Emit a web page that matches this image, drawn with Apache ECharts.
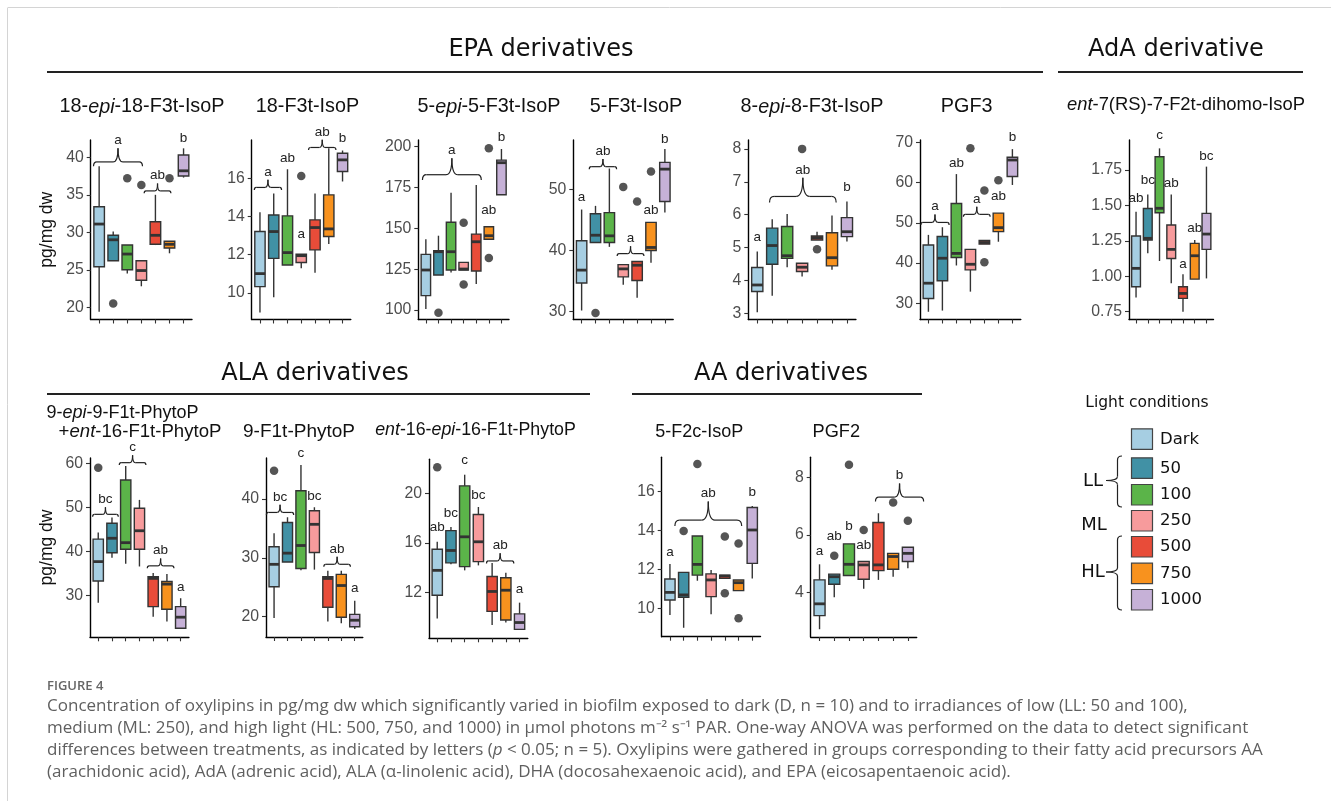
<!DOCTYPE html>
<html><head><meta charset="utf-8">
<script src="https://cdn.jsdelivr.net/npm/echarts@6/dist/echarts.min.js"></script>
<style>html,body{margin:0;padding:0;background:#fff}#c{width:1331px;height:801px}</style>
</head><body><div id="c"></div><script>
// ---------------- DATA ----------------
const categories = ['Dark','50','100','250','500','750','1000'];
// box stats per category: [min, q1, median, q3, max]
// 18-epi-18-F3t-IsoP
const epa1Box = [[19.4,25.4,31.1,33.4,38.8],[26.2,26.2,29.0,29.6,30.1],[24.5,25.0,27.1,28.3,28.3],[22.8,23.6,24.9,26.2,26.2],[28.3,28.4,29.6,31.4,35.0],[27.2,27.9,28.4,28.8,28.8],[37.3,37.5,38.2,40.3,41.2]];
const epa1Out = [[1,20.5],[2,37.2],[3,36.3],[5,37.2]];
const epa1Ticks = [20,25,30,35,40];
const epa1Letters = [[-0.4,3.08,38.8,'a'],[3.2,5.1,35.2,'ab'],[6,6,41.6,'b']];
// 18-F3t-IsoP
const epa2Box = [[8.97,10.33,11.01,13.21,14.22],[9.77,11.81,13.21,14.08,15.2],[11.46,11.46,12.11,14.03,16.47],[11.29,11.59,11.95,12.02,12.02],[11.06,12.25,13.42,13.82,15.2],[12.56,12.95,13.35,15.13,17.57],[15.83,16.35,16.96,17.31,17.45]];
const epa2Out = [[3,16.12]];
const epa2Ticks = [10,12,14,16];
const epa2Letters = [[-0.41,1.57,15.39,'a'],[2,2,16.7,'ab'],[3,3,12.69,'a'],[3.53,5.52,17.48,'ab'],[6,6,17.74,'b']];
// 5-epi-5-F3t-IsoP
const epa3Box = [[100.6,108.8,124.5,134.1,143.3],[121.4,121.4,135.7,136.3,145.5],[122.9,124.5,135.7,153.7,171.8],[124.5,124.5,125.1,129.2,129.2],[115.9,123.9,141.8,146.5,176.5],[143.3,143.3,145.5,151.0,151.0],[170.6,170.6,190.2,191.8,198.6]];
const epa3Out = [[1,98.4],[3,153.5],[3,115.7],[5,199.0],[5,131.8]];
const epa3Ticks = [100,125,150,175,200];
const epa3Letters = [[-0.27,4.4,179.6,'a'],[5,5,156.7,'ab'],[6,6,201.4,'b']];
// 5-F3t-IsoP
const epa4Box = [[30.2,34.7,36.8,41.6,46.7],[41.3,41.3,42.5,46.0,47.3],[40.6,41.3,42.4,46.2,53.4],[34.4,35.7,37.0,37.7,37.7],[32.3,35.1,37.6,38.2,38.2],[38.0,40.0,40.5,44.6,44.6],[46.2,48.0,53.3,54.4,56.6]];
const epa4Out = [[1,29.8],[3,50.4],[4,48.0],[5,52.9]];
const epa4Ticks = [30,40,50];
const epa4Letters = [[0,0,47.6,'a'],[0.55,2.52,53.3,'ab'],[2.56,4.49,39.1,'a'],[5,5,45.5,'ab'],[6,6,57.0,'b']];
// 8-epi-8-F3t-IsoP
const epa5Box = [[3.03,3.66,3.86,4.39,4.88],[3.53,4.49,5.06,5.59,5.86],[4.40,4.67,4.75,5.64,6.02],[4.12,4.27,4.40,4.52,4.52],[5.23,5.23,5.30,5.35,5.48],[4.32,4.44,4.69,5.45,5.97],[5.18,5.33,5.48,5.91,6.40]];
const epa5Out = [[3,8.0],[4,4.95]];
const epa5Ticks = [3,4,5,6,7,8];
const epa5Letters = [[0,0,5.11,'a'],[0.82,5.28,6.37,'ab'],[6,6,6.63,'b']];
// PGF3
const epa6Box = [[27.9,31.2,35.0,44.5,47.0],[28.2,35.6,41.2,46.6,48.9],[39.4,41.4,42.4,54.8,62.1],[32.9,38.3,39.7,43.4,43.4],[44.7,44.7,45.1,45.6,45.6],[45.3,47.8,48.8,52.4,52.4],[59.4,61.5,65.6,66.3,68.3]];
const epa6Out = [[3,68.5],[4,58.0],[4,40.2],[5,60.6]];
const epa6Ticks = [30,40,50,60,70];
const epa6Letters = [[-0.54,1.48,49.46,'a'],[2,2,63.1,'ab'],[2.5,4.41,51.5,'a'],[5,5,54.8,'ab'],[6,6,69.4,'b']];
// ent-7(RS)-7-F2t-dihomo-IsoP
const adaBox = [[0.851,0.926,1.056,1.284,1.456],[1.162,1.256,1.268,1.479,1.578],[1.108,1.449,1.48,1.844,1.903],[0.95,1.126,1.190,1.362,1.578],[0.75,0.844,0.879,0.926,1.014],[0.98,0.98,1.145,1.232,1.256],[0.985,1.19,1.298,1.444,1.774]];
const adaOut = [];
const adaTicks = [0.75,1.00,1.25,1.50,1.75];
const adaLetters = [[0,0,1.50,'ab'],[1,1,1.628,'bc'],[2,2,1.943,'c'],[3,3,1.609,'ab'],[4,4,1.032,'a'],[5,5,1.289,'ab'],[6,6,1.797,'bc']];
// 9-epi-9-F1t-PhytoP + ent-16-F1t-PhytoP
const ala1Box = [[28.4,33.3,37.7,42.8,44.3],[38.6,39.7,43.0,46.4,47.7],[37.2,40.5,42.0,56.2,59.4],[36.6,40.5,44.7,49.8,51.7],[25.2,27.5,33.9,34.3,35.1],[24.1,26.9,32.6,33.2,34.9],[22.6,22.6,25.1,27.5,29.4]];
const ala1Out = [[0,59.0]];
const ala1Ticks = [30,40,50,60];
const ala1Letters = [[-0.41,1.46,47.9,'bc'],[1.53,3.47,59.6,'c'],[3.57,5.51,36.2,'ab'],[6,6,30.3,'a']];
// 9-F1t-PhytoP
const ala2Box = [[19.8,25.1,28.9,31.9,34.2],[29.3,29.3,30.8,36.0,36.9],[27.9,28.2,32.1,41.4,45.8],[28.0,30.9,35.7,38.0,38.6],[19.2,21.6,26.5,26.8,27.8],[18.9,19.9,25.3,27.2,27.8],[17.9,18.3,19.4,20.4,22.7]];
const ala2Out = [[0,44.8]];
const ala2Ticks = [20,30,40];
const ala2Letters = [[-0.57,1.46,37.3,'bc'],[2,2,46.6,'c'],[3,3,39.3,'bc'],[3.70,5.68,28.5,'ab'],[6,6,23.7,'a']];
// ent-16-epi-16-F1t-PhytoP
const ala3Box = [[9.93,11.8,13.8,15.5,16.1],[14.3,14.4,15.4,17.0,17.3],[13.8,14.1,16.5,20.6,21.5],[14.2,14.5,16.1,18.3,18.9],[9.4,10.5,12.1,13.3,14.4],[9.6,9.8,12.2,13.2,13.6],[9.05,9.05,9.6,10.3,11.2]];
const ala3Out = [[0,22.1]];
const ala3Ticks = [12,16,20];
const ala3Letters = [[0,0,16.7,'ab'],[1,1,17.85,'bc'],[2,2,22.1,'c'],[3,3,19.25,'bc'],[3.59,5.58,14.36,'ab'],[6,6,11.7,'a']];
// 5-F2c-IsoP
const aa1Box = [[9.66,10.43,10.82,11.51,12.28],[9.0,10.57,10.69,11.85,11.85],[11.42,11.71,12.26,13.72,13.72],[9.69,10.6,11.46,11.77,11.97],[11.54,11.54,11.66,11.71,11.71],[10.91,10.91,11.32,11.46,11.46],[11.54,12.31,14.03,15.19,15.26]];
const aa1Out = [[1,13.98],[2,17.42],[4,13.69],[4,10.77],[5,13.34],[5,9.49]];
const aa1Ticks = [10,12,14,16];
const aa1Letters = [[0,0,12.52,'a'],[0.36,5.23,14.23,'ab'],[6,6,15.62,'b']];
// PGF2
const aa2Box = [[2.73,3.20,3.61,4.44,4.98],[3.84,4.29,4.55,4.64,4.64],[4.59,4.59,4.98,5.69,5.69],[4.13,4.46,4.96,5.08,5.08],[4.44,4.76,4.96,6.43,6.75],[4.55,4.81,5.25,5.36,5.36],[4.84,5.08,5.36,5.57,5.57]];
const aa2Out = [[1,5.28],[2,8.43],[3,6.17],[5,7.12],[6,6.49]];
const aa2Ticks = [4,6,8];
const aa2Letters = [[0,0,5.2,'a'],[1,1,5.71,'ab'],[2,2,6.06,'b'],[3,3,5.39,'ab'],[3.80,7.07,7.16,'b']];

// ---------------- STYLE / LAYOUT ----------------
const COLORS = ['#a6cee2','#4191a5','#5bb449','#f79b9c','#e84c39','#f8921e','#c6b1d7'];
const STROKE = '#333333';
const SANS = '"Liberation Sans", Arial, sans-serif';
const DEJA = '"DejaVu Sans", sans-serif';

const panels = [
  {box:epa1Box,out:epa1Out,ticks:epa1Ticks,letters:epa1Letters, left:90.7,top:140,width:101.3,height:179.5,min:18.37,max:42.31},
  {box:epa2Box,out:epa2Out,ticks:epa2Ticks,letters:epa2Letters, left:251.7,top:140,width:99.1,height:179.5,min:8.61,max:18.0},
  {box:epa3Box,out:epa3Out,ticks:epa3Ticks,letters:epa3Letters, left:418.3,top:140,width:90.7,height:179.5,min:94.2,max:204.1},
  {box:epa4Box,out:epa4Out,ticks:epa4Ticks,letters:epa4Letters, left:573.3,top:140,width:99.9,height:179.5,min:28.73,max:58.06},
  {box:epa5Box,out:epa5Out,ticks:epa5Ticks,letters:epa5Letters, left:748.3,top:140,width:107.6,height:179.5,min:2.81,max:8.27},
  {box:epa6Box,out:epa6Out,ticks:epa6Ticks,letters:epa6Letters, left:920,top:140,width:100.8,height:179.5,min:25.98,max:70.57},
  {box:adaBox,out:adaOut,ticks:adaTicks,letters:adaLetters, left:1129,top:140,width:84.5,height:179.5,min:0.695,max:1.962,dec:2},
  {box:ala1Box,out:ala1Out,ticks:ala1Ticks,letters:ala1Letters, left:90,top:458,width:98.9,height:179.3,min:20.54,max:61.2},
  {box:ala2Box,out:ala2Out,ticks:ala2Ticks,letters:ala2Letters, left:266,top:458,width:96.8,height:179,min:16.55,max:46.97},
  {box:ala3Box,out:ala3Out,ticks:ala3Ticks,letters:ala3Letters, left:429,top:459.3,width:98.8,height:179,min:8.33,max:22.74},
  {box:aa1Box,out:aa1Out,ticks:aa1Ticks,letters:aa1Letters, left:661.7,top:457.3,width:98.8,height:179.4,min:8.54,max:17.77},
  {box:aa2Box,out:aa2Out,ticks:aa2Ticks,letters:aa2Letters, left:810.7,top:457.3,width:106,height:179.7,min:2.46,max:8.69}
];

const titles = [
  {t:'18-{i|epi}-18-F3t-IsoP', x:142, y:107, fs:19.8},
  {t:'18-F3t-IsoP', x:307.5, y:107, fs:19.8},
  {t:'5-{i|epi}-5-F3t-IsoP', x:489, y:107, fs:19.8},
  {t:'5-F3t-IsoP', x:636, y:107, fs:19.8},
  {t:'8-{i|epi}-8-F3t-IsoP', x:812, y:107, fs:19.8},
  {t:'PGF3', x:966.7, y:107, fs:19.8},
  {t:'{i|ent}-7(RS)-7-F2t-dihomo-IsoP', x:1186, y:105, fs:18.4},
  {t:'9-{i|epi}-9-F1t-PhytoP', x:122.5, y:413.3, fs:18},
  {t:'+{i|ent}-16-F1t-PhytoP', x:140, y:431.7, fs:18.6},
  {t:'9-F1t-PhytoP', x:299, y:431.7, fs:19},
  {t:'{i|ent}-16-{i|epi}-16-F1t-PhytoP', x:475.5, y:430, fs:17.8},
  {t:'5-F2c-IsoP', x:699.3, y:431.7, fs:18},
  {t:'PGF2', x:836.3, y:431.7, fs:18.2}
];

const BOX_W = 0.75;

function renderBox(params, api) {
  const i = api.value(0);
  const cx = api.coord([i, api.value(3)])[0];
  const yMin = api.coord([i, api.value(1)])[1];
  const yQ1 = api.coord([i, api.value(2)])[1];
  const yMed = api.coord([i, api.value(3)])[1];
  const yQ3 = api.coord([i, api.value(4)])[1];
  const yMax = api.coord([i, api.value(5)])[1];
  const hw = api.size([BOX_W, 0])[0] / 2;
  return {type:'group', children:[
    {type:'line', shape:{x1:cx,y1:yMax,x2:cx,y2:yQ3}, style:{stroke:STROKE,lineWidth:1.4}},
    {type:'line', shape:{x1:cx,y1:yQ1,x2:cx,y2:yMin}, style:{stroke:STROKE,lineWidth:1.4}},
    {type:'rect', shape:{x:cx-hw,y:yQ3,width:2*hw,height:Math.max(yQ1-yQ3,0.6)}, style:{fill:COLORS[i],stroke:STROKE,lineWidth:1.4}},
    {type:'line', shape:{x1:cx-hw,y1:yMed,x2:cx+hw,y2:yMed}, style:{stroke:STROKE,lineWidth:2.8}}
  ]};
}

// horizontal curly brace (tip up) as line + quadratic curve pieces
function hBracePieces(xa, xb, y0, w) {
  const yb = y0 - 0.09 * w, yt = yb - 0.28 * w;
  const re = 0.07 * w, rt = 0.1 * w, xm = (xa + xb) / 2;
  const st = {stroke:'#222', fill:null, lineWidth:1.2};
  return {yt, xm, items:[
    {type:'bezierCurve', shape:{x1:xa,y1:y0,cpx1:xa,cpy1:yb,x2:xa+re,y2:yb}, style:st},
    {type:'line', shape:{x1:xa+re,y1:yb,x2:xm-rt,y2:yb}, style:st},
    {type:'bezierCurve', shape:{x1:xm-rt,y1:yb,cpx1:xm,cpy1:yb,x2:xm,y2:yt}, style:st},
    {type:'bezierCurve', shape:{x1:xm,y1:yt,cpx1:xm,cpy1:yb,x2:xm+rt,y2:yb}, style:st},
    {type:'line', shape:{x1:xm+rt,y1:yb,x2:xb-re,y2:yb}, style:st},
    {type:'bezierCurve', shape:{x1:xb-re,y1:yb,cpx1:xb,cpy1:yb,x2:xb,y2:y0}, style:st}
  ]};
}

function makeLetterRenderer(letters) {
  return function(params, api) {
    const x1 = api.value(0), x2 = api.value(1), y = api.value(2);
    const label = letters[params.dataIndex][3];
    const p1 = api.coord([x1, y]);
    const p2 = api.coord([x2, y]);
    let children = [];
    let tx = p1[0], ty = p1[1];
    if (x2 > x1) {
      const b = hBracePieces(p1[0], p2[0], p1[1], p2[0] - p1[0]);
      children = children.concat(b.items);
      tx = b.xm; ty = b.yt - 1;
    }
    children.push({type:'text', x:tx, y:ty, style:{text:label, align:'center', verticalAlign:'bottom', fontSize:13.5, fontFamily:SANS, fill:'#222'}});
    return {type:'group', children};
  };
}

const grid = [], xAxis = [], yAxis = [], series = [];
panels.forEach((p, k) => {
  grid.push({left:p.left, top:p.top, width:p.width, height:p.height, containLabel:false});
  xAxis.push({gridIndex:k, type:'value', min:-0.6, max:6.6,
    axisLine:{show:true, onZero:false, lineStyle:{color:'#000', width:1.4}},
    axisTick:{show:true, customValues:[0,1,2,3,4,5,6], length:4, lineStyle:{color:'#333', width:1.1}},
    axisLabel:{show:false}, splitLine:{show:false}});
  yAxis.push({gridIndex:k, type:'value', min:p.min, max:p.max,
    axisLine:{show:true, onZero:false, lineStyle:{color:'#000', width:1.4}},
    axisTick:{show:true, customValues:p.ticks, length:4, lineStyle:{color:'#333', width:1.1}},
    axisLabel:{show:true, customValues:p.ticks, margin:7, fontSize:15.8, fontFamily:SANS, color:'#4d4d4d',
      formatter: v => p.dec ? Number(v).toFixed(p.dec) : String(v)},
    splitLine:{show:false}});
  series.push({type:'custom', xAxisIndex:k, yAxisIndex:k, silent:true, clip:false,
    encode:{x:0, y:[1,2,3,4,5]}, renderItem:renderBox,
    data:p.box.map((b,i)=>[i].concat(b))});
  series.push({type:'scatter', xAxisIndex:k, yAxisIndex:k, silent:true, symbol:'circle', symbolSize:8.5,
    itemStyle:{color:'#2a2a2a'}, data:p.out});
  series.push({type:'custom', xAxisIndex:k, yAxisIndex:k, silent:true, clip:false,
    encode:{x:[0,1], y:2}, renderItem:makeLetterRenderer(p.letters),
    data:p.letters.map(l=>[l[0],l[1],l[2]])});
});

// ---------------- GRAPHIC (titles, legend, caption) ----------------
const g = [];
g.push({type:'line', shape:{x1:8,y1:7.5,x2:1331,y2:7.5}, style:{stroke:'#d4d4d4',lineWidth:1}});
g.push({type:'line', shape:{x1:7.5,y1:7.5,x2:7.5,y2:801}, style:{stroke:'#d4d4d4',lineWidth:1}});
const headers = [
  {t:'EPA derivatives', x:541, y:50, l1:47, l2:1043, ly:72},
  {t:'AdA derivative', x:1176, y:50, l1:1058, l2:1303, ly:72},
  {t:'ALA derivatives', x:315, y:374, l1:47, l2:590, ly:394},
  {t:'AA derivatives', x:781, y:374, l1:632, l2:922, ly:394}
];
headers.forEach(h => {
  g.push({type:'text', x:h.x, y:h.y, style:{text:h.t, align:'center', verticalAlign:'middle', fontSize:24, fontFamily:DEJA, fill:'#111'}});
  g.push({type:'line', shape:{x1:h.l1,y1:h.ly,x2:h.l2,y2:h.ly}, style:{stroke:'#222',lineWidth:2.2}});
});
titles.forEach(t => {
  g.push({type:'text', x:t.x, y:t.y, style:{text:t.t, align:'center', verticalAlign:'middle', fontSize:t.fs, fontFamily:SANS, fill:'#111',
    rich:{i:{fontStyle:'italic', fontSize:t.fs, fontFamily:SANS, fill:'#111'}}}});
});
[[47,229.7],[47,547.5]].forEach(pt => {
  g.push({type:'text', x:pt[0], y:pt[1], rotation:Math.PI/2, style:{text:'pg/mg dw', align:'center', verticalAlign:'middle', fontSize:17.5, fontFamily:SANS, fill:'#111'}});
});
// legend
g.push({type:'text', x:1147, y:402.7, style:{text:'Light conditions', align:'center', verticalAlign:'middle', fontSize:15.5, fontFamily:DEJA, fill:'#111'}});
const legY = [428.3,457.3,484,510,536,562.7,589];
categories.forEach((c,i) => {
  g.push({type:'rect', shape:{x:1131.5,y:legY[i]+0.5,width:21,height:20.5}, style:{fill:COLORS[i], stroke:'#444', lineWidth:1.2}});
  g.push({type:'text', x:1160, y:legY[i]+11, style:{text:c, align:'left', verticalAlign:'middle', fontSize:16.5, fontFamily:DEJA, fill:'#111'}});
});
[['LL',1093,481.7],['ML',1094,525],['HL',1093,572.7]].forEach(l => {
  g.push({type:'text', x:l[1], y:l[2], style:{text:l[0], align:'center', verticalAlign:'middle', fontSize:18, fontFamily:DEJA, fill:'#111'}});
});
function vBrace(xr, y1, ym, y2) {
  const xb = xr - 4.5, xt = xr - 16, r = 4;
  const st = {stroke:'#222', fill:null, lineWidth:1.2};
  return [
    {type:'bezierCurve', shape:{x1:xr,y1:y1,cpx1:xb,cpy1:y1,x2:xb,y2:y1+r}, style:st},
    {type:'line', shape:{x1:xb,y1:y1+r,x2:xb,y2:ym-r}, style:st},
    {type:'bezierCurve', shape:{x1:xb,y1:ym-r,cpx1:xb,cpy1:ym,x2:xt,y2:ym}, style:st},
    {type:'bezierCurve', shape:{x1:xt,y1:ym,cpx1:xb,cpy1:ym,x2:xb,y2:ym+r}, style:st},
    {type:'line', shape:{x1:xb,y1:ym+r,x2:xb,y2:y2-r}, style:st},
    {type:'bezierCurve', shape:{x1:xb,y1:y2-r,cpx1:xb,cpy1:y2,x2:xr,y2:y2}, style:st}
  ];
}
vBrace(1122,456,480.5,507).forEach(e => g.push(e));
vBrace(1122,536,572,610).forEach(e => g.push(e));

// caption
const CAP_FONT = 'Open Sans';
const CAP_SIZE = 15.5;
const capLines = [
  {t:'Concentration of oxylipins in pg/mg dw which significantly varied in biofilm exposed to dark (D, n = 10) and to irradiances of low (LL: 50 and 100),', w:1156, y:707},
  {t:'medium (ML: 250), and high light (HL: 500, 750, and 1000) in \u03bcmol photons m\u207b\u00b2 s\u207b\u00b9 PAR. One-way ANOVA was performed on the data to detect significant', w:1246, y:729},
  {t:'differences between treatments, as indicated by letters ({i|p} < 0.05; n = 5). Oxylipins were gathered in groups corresponding to their fatty acid precursors AA', plain:'differences between treatments, as indicated by letters (p < 0.05; n = 5). Oxylipins were gathered in groups corresponding to their fatty acid precursors AA', w:1250, y:751},
  {t:'(arachidonic acid), AdA (adrenic acid), ALA (\u03b1-linolenic acid), DHA (docosahexaenoic acid), and EPA (eicosapentaenoic acid).', w:870, y:773}
];
const cv = document.createElement('canvas').getContext('2d');
cv.font = CAP_SIZE + 'px "' + CAP_FONT + '"';
let sumW = 0, sumM = 0;
capLines.forEach(l => { l.mw = cv.measureText(l.plain || l.t).width; sumW += l.w; sumM += l.mw; });
const capScale = sumW / sumM;
capLines.forEach(l => {
  g.push({type:'text', x:47, y:l.y, scaleX:capScale, style:{text:l.t, align:'left', verticalAlign:'middle', fontSize:CAP_SIZE, fontFamily:CAP_FONT, fill:'#5f5f5f',
    rich:{i:{fontStyle:'italic', fontSize:CAP_SIZE, fontFamily:CAP_FONT, fill:'#5f5f5f'}}}});
});
g.push({type:'text', x:47, y:686, style:{text:'FIGURE 4', align:'left', verticalAlign:'middle', fontSize:13, fontFamily:'Open Sans', fontWeight:600, fill:'#666'}});

const chart = echarts.init(document.getElementById('c'), null, {renderer:'canvas', width:1331, height:801});
chart.setOption({
  animation:false,
  backgroundColor:'#fff',
  grid, xAxis, yAxis, series,
  graphic:{elements:g}
});
</script></body></html>
